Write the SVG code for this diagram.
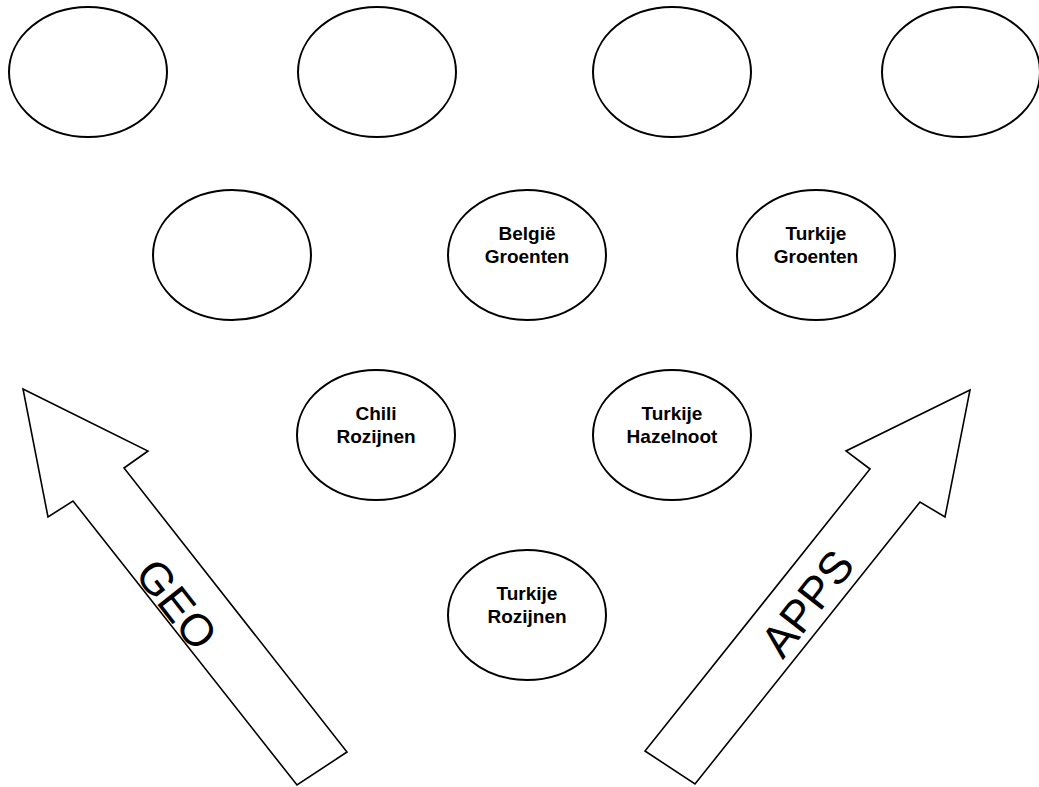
<svg xmlns="http://www.w3.org/2000/svg" width="1039" height="787" viewBox="0 0 1039 787">
<style>
.n{fill:#fff;stroke:#000;stroke-width:2}
.t{font-family:"Liberation Sans",Arial,sans-serif;font-size:19px;font-weight:bold;text-anchor:middle;fill:#000}
.a{fill:#fff;stroke:#000;stroke-width:1.6;stroke-linejoin:miter}
.big{font-family:"Liberation Sans",Arial,sans-serif;font-size:45px;text-anchor:middle;fill:#000}
</style>
<rect width="1039" height="787" fill="#fff"/>
<g id="n1"><ellipse class="n" cx="88" cy="72" rx="79" ry="65"/></g>
<g id="n2"><ellipse class="n" cx="377" cy="72" rx="79" ry="65"/></g>
<g id="n3"><ellipse class="n" cx="672" cy="72" rx="79" ry="65"/></g>
<g id="n4"><ellipse class="n" cx="961" cy="72" rx="79" ry="65"/></g>
<g id="n5"><ellipse class="n" cx="232" cy="255" rx="79" ry="65"/></g>
<g id="n6"><ellipse class="n" cx="527" cy="255" rx="79" ry="65"/><text class="t" x="527" y="240">België</text><text class="t" x="527" y="263">Groenten</text></g>
<g id="n7"><ellipse class="n" cx="816" cy="255" rx="79" ry="65"/><text class="t" x="816" y="240">Turkije</text><text class="t" x="816" y="263">Groenten</text></g>
<g id="n8"><ellipse class="n" cx="376" cy="435" rx="79" ry="65"/><text class="t" x="376" y="420">Chili</text><text class="t" x="376" y="443">Rozijnen</text></g>
<g id="n9"><ellipse class="n" cx="672" cy="435" rx="79" ry="65"/><text class="t" x="672" y="420">Turkije</text><text class="t" x="672" y="443">Hazelnoot</text></g>
<g id="n10"><ellipse class="n" cx="527" cy="615" rx="79" ry="65"/><text class="t" x="527" y="600">Turkije</text><text class="t" x="527" y="623">Rozijnen</text></g>
<g id="geo">
<polygon class="a" points="23,389 148,451 124,468 347,752 297,785 73,501 48,517"/>
<text class="big" transform="translate(177,604) rotate(52)" y="16">GEO</text>
</g>
<g id="apps">
<polygon class="a" points="970,390 846,451 870,469 645,751 695,784 920,502 945,517"/>
<text class="big" transform="translate(807,603) rotate(-52)" y="16">APPS</text>
</g>
<g id="connectors"></g>
</svg>
